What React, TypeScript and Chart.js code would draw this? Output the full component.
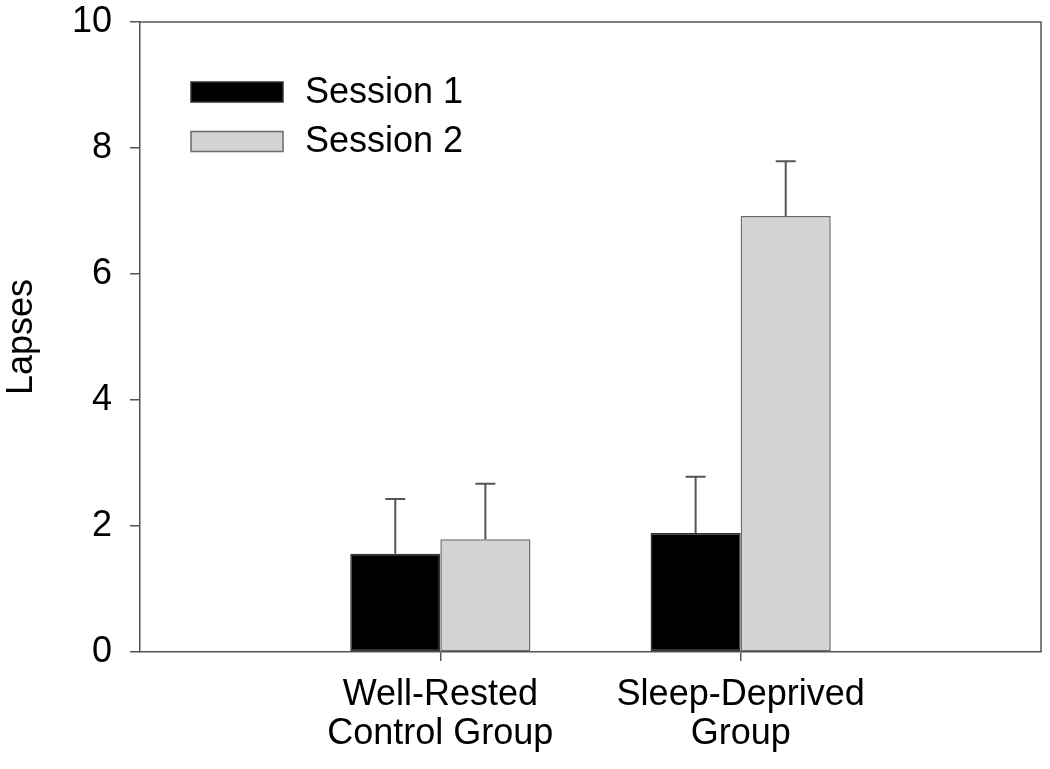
import React, { useEffect, useRef } from "react";
import { Chart, registerables } from "chart.js";

Chart.register(...registerables);

const categories: string[][] = [["Well-Rested", "Control Group"], ["Sleep-Deprived", "Group"]];
const seriesNames = ["Session 1", "Session 2"];
const session1 = [1.56, 1.89];
const session2 = [1.79, 6.92];
const session1Err = [0.87, 0.89];
const session2Err = [0.88, 0.87];
const yTicks = [0, 2, 4, 6, 8, 10];

const FONT = "'Liberation Sans', Arial, Helvetica, sans-serif";
const AXIS = "#555555";

export default function App() {
  const ref = useRef<HTMLCanvasElement | null>(null);

  useEffect(() => {
    if (!ref.current) return;
    const labels: any[] = ["", ...categories, ""];
    const pad = (arr: number[]) => [null, ...arr, null];

    const errorBars = {
      id: "errorBars",
      afterDatasetsDraw(chart: any) {
        const ctx = chart.ctx;
        const yScale = chart.scales.y;
        chart.data.datasets.forEach((ds: any, di: number) => {
          const meta = chart.getDatasetMeta(di);
          meta.data.forEach((el: any, i: number) => {
            const v = ds.data[i];
            const e = ds.errors[i];
            if (v == null || e == null) return;
            const x = el.x;
            const y0 = yScale.getPixelForValue(v);
            const y1 = yScale.getPixelForValue(v + e);
            ctx.save();
            ctx.strokeStyle = AXIS;
            ctx.lineWidth = 2;
            ctx.beginPath();
            ctx.moveTo(x, y0);
            ctx.lineTo(x, y1);
            ctx.moveTo(x - 10, y1);
            ctx.lineTo(x + 10, y1);
            ctx.stroke();
            ctx.restore();
          });
        });
      },
    };

    const boxAndLegend = {
      id: "boxAndLegend",
      afterDraw(chart: any) {
        const ctx = chart.ctx;
        const a = chart.chartArea;
        ctx.save();
        ctx.strokeStyle = AXIS;
        ctx.lineWidth = 1.5;
        ctx.beginPath();
        ctx.moveTo(a.left, a.top);
        ctx.lineTo(a.right, a.top);
        ctx.lineTo(a.right, a.bottom);
        ctx.stroke();
        // legend
        ctx.font = `36px ${FONT}`;
        ctx.textBaseline = "middle";
        ctx.fillStyle = "#000";
        chart.data.datasets.forEach((ds: any, i: number) => {
          const cy = a.top + 70 + i * 49.5;
          const x = a.left + 51;
          ctx.fillStyle = ds.backgroundColor;
          ctx.fillRect(x, cy - 10, 92, 20);
          ctx.strokeStyle = ds.borderColor;
          ctx.lineWidth = 1.5;
          ctx.strokeRect(x, cy - 10, 92, 20);
          ctx.fillStyle = "#000";
          ctx.fillText(ds.label, a.left + 165, cy + 1);
        });
        ctx.restore();
      },
    };

    const chart = new Chart(ref.current, {
      type: "bar",
      data: {
        labels,
        datasets: [
          {
            label: seriesNames[0],
            data: pad(session1) as any,
            errors: pad(session1Err),
            backgroundColor: "#000000",
            borderColor: "#333333",
            borderWidth: 1.5,
            borderSkipped: false,
          } as any,
          {
            label: seriesNames[1],
            data: pad(session2) as any,
            errors: pad(session2Err),
            backgroundColor: "#d3d3d3",
            borderColor: "#6a6a6a",
            borderWidth: 1.5,
            borderSkipped: false,
          } as any,
        ],
      },
      options: {
        animation: false,
        responsive: true,
        maintainAspectRatio: false,
        layout: { padding: { top: 22, right: 9, left: 0, bottom: 0 } },
        plugins: { legend: { display: false }, tooltip: { enabled: false } },
        datasets: { bar: { categoryPercentage: 0.6, barPercentage: 1.0 } },
        scales: {
          x: {
            type: "category",
            offset: false,
            afterFit: (s: any) => {
              s.height = 117;
              s.paddingLeft = 0;
              s.paddingRight = 0;
            },
            border: { display: true, color: AXIS, width: 1.5 },
            grid: {
              display: true,
              offset: false,
              drawOnChartArea: false,
              drawTicks: true,
              tickLength: 9,
              lineWidth: 1.5,
              color: (c: any) => (c.index === 1 || c.index === 2 ? AXIS : "rgba(0,0,0,0)"),
            },
            ticks: {
              autoSkip: false,
              maxRotation: 0,
              color: "#000",
              padding: 14,
              font: { family: FONT, size: 36, lineHeight: 1.1 },
            },
          },
          y: {
            min: 0,
            max: 10,
            afterFit: (s: any) => {
              s.width = 140;
              s.paddingTop = 0;
              s.paddingBottom = 0;
            },
            afterBuildTicks: (s: any) => { s.ticks = yTicks.map((v) => ({ value: v })); },
            border: { display: true, color: AXIS, width: 1.5 },
            grid: {
              display: true,
              drawOnChartArea: false,
              drawTicks: true,
              tickLength: 10,
              lineWidth: 1.5,
              color: AXIS,
            },
            ticks: {
              color: "#000",
              padding: 18,
              font: { family: FONT, size: 36 },
            },
            title: {
              display: true,
              text: "Lapses",
              color: "#000",
              padding: 0,
              font: { family: FONT, size: 36 },
            },
          },
        },
      } as any,
      plugins: [errorBars, boxAndLegend],
    });
    return () => chart.destroy();
  }, []);

  return (
    <div style={{ position: "absolute", left: 0, top: 0, width: 1050, height: 769, background: "#fff" }}>
      <canvas ref={ref} />
    </div>
  );
}
